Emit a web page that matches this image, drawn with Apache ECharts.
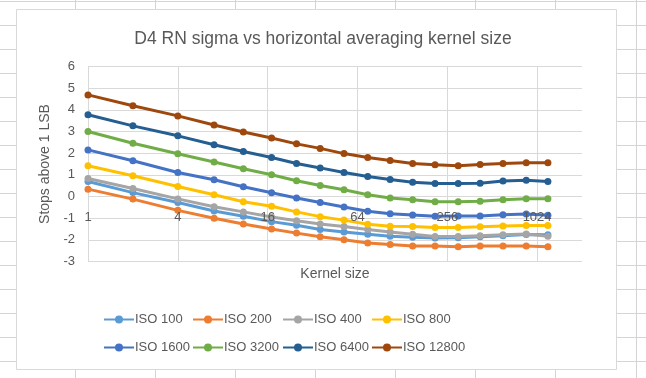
<!DOCTYPE html>
<html>
<head>
<meta charset="utf-8">
<script src="https://cdn.jsdelivr.net/npm/echarts@6/dist/echarts.min.js"></script>
<style>
html,body{margin:0;padding:0;background:#fff;}
#chart{width:646px;height:378px;}
</style>
</head>
<body>
<div id="chart"></div>
<script>
// ---- data ----
const kernelSizes = [1, 2, 4, 7, 11, 17, 25, 36, 52, 75, 106, 150, 212, 303, 425, 605, 866, 1210];
const xTickLabels = [1, 4, 16, 64, 256, 1024];
const seriesNames = ['ISO 100', 'ISO 200', 'ISO 400', 'ISO 800', 'ISO 1600', 'ISO 3200', 'ISO 6400', 'ISO 12800'];
const iso100   = [0.69, 0.18, -0.28, -0.67, -0.91, -1.16, -1.33, -1.52, -1.64, -1.74, -1.84, -1.88, -1.92, -1.90, -1.86, -1.81, -1.75, -1.77];
const iso200   = [0.34, -0.12, -0.64, -1.00, -1.27, -1.50, -1.69, -1.86, -2.00, -2.15, -2.22, -2.28, -2.29, -2.32, -2.28, -2.28, -2.28, -2.32];
const iso400   = [0.83, 0.37, -0.11, -0.47, -0.71, -0.95, -1.12, -1.27, -1.38, -1.52, -1.64, -1.74, -1.85, -1.85, -1.81, -1.77, -1.73, -1.84];
const iso800   = [1.42, 0.96, 0.46, 0.08, -0.24, -0.45, -0.71, -0.93, -1.09, -1.28, -1.37, -1.39, -1.43, -1.43, -1.40, -1.36, -1.34, -1.34];
const iso1600  = [2.15, 1.65, 1.11, 0.77, 0.45, 0.17, -0.07, -0.28, -0.48, -0.68, -0.80, -0.85, -0.91, -0.90, -0.90, -0.84, -0.81, -0.86];
const iso3200  = [3.00, 2.46, 1.97, 1.59, 1.28, 1.00, 0.73, 0.51, 0.31, 0.08, -0.07, -0.15, -0.24, -0.24, -0.22, -0.15, -0.10, -0.10];
const iso6400  = [3.77, 3.26, 2.80, 2.39, 2.08, 1.80, 1.52, 1.32, 1.11, 0.92, 0.78, 0.66, 0.60, 0.60, 0.61, 0.71, 0.75, 0.69];
const iso12800 = [4.69, 4.19, 3.72, 3.30, 2.98, 2.70, 2.43, 2.22, 1.98, 1.80, 1.66, 1.52, 1.46, 1.42, 1.48, 1.52, 1.56, 1.56];
const seriesValues = [iso100, iso200, iso400, iso800, iso1600, iso3200, iso6400, iso12800];
const colors = ['#5B9BD5', '#ED7D31', '#A5A5A5', '#FFC000', '#4472C4', '#70AD47', '#255E91', '#9E480E'];

const FONT = "'Liberation Sans', Arial, sans-serif";
const TXT = '#595959';

const chart = echarts.init(document.getElementById('chart'), null, {renderer: 'canvas'});

// spreadsheet background lines (decoration)
const sheet = [];
for (let y = 1; y <= 378; y += 24) {
  sheet.push({type: 'line', shape: {x1: 0, y1: y + 0.5, x2: 646, y2: y + 0.5}, style: {stroke: '#d4d4d4', lineWidth: 1}, z: -20});
}
for (let x = 75; x < 646; x += 80) {
  const xx = x > 600 ? 636 : x;
  sheet.push({type: 'line', shape: {x1: xx + 0.5, y1: 0, x2: xx + 0.5, y2: 378}, style: {stroke: '#d4d4d4', lineWidth: 1}, z: -20});
}
sheet.push({type: 'rect', shape: {x: 16.5, y: 9.5, width: 600, height: 360}, style: {fill: '#fff', stroke: '#d9d9d9', lineWidth: 1}, z: -10});
sheet.push({type: 'text', x: 335, y: 274, style: {text: 'Kernel size', font: '14px ' + FONT, fill: TXT, align: 'center', verticalAlign: 'middle'}, z: 5});

const legendX = [103, 192, 282, 371];
const legendY = [313, 341];
const legends = seriesNames.map((n, i) => ({
  data: [n],
  left: legendX[i % 4],
  top: legendY[Math.floor(i / 4)],
  itemWidth: 30,
  itemHeight: 10,
  itemGap: 0,
  textStyle: {color: TXT, fontSize: 13, fontFamily: FONT, padding: [0, 0, 0, -4]},
  padding: 0
}));

const xAxisBase = {
  type: 'log',
  logBase: 4,
  min: 1,
  max: 2048,
  position: 'bottom',
  offset: -65,
  axisLine: {show: false, onZero: false},
  axisTick: {show: false}
};

const option = {
  animation: false,
  backgroundColor: 'transparent',
  color: colors,
  title: {
    text: 'D4 RN sigma vs horizontal averaging kernel size',
    left: 'center',
    top: 25,
    textStyle: {color: TXT, fontSize: 17.5, fontWeight: 'normal', fontFamily: FONT}
  },
  graphic: {elements: sheet},
  legend: legends,
  grid: {left: 88, right: 64, top: 66.5, bottom: 116.5, containLabel: false},
  xAxis: [
    Object.assign({}, xAxisBase, {
      splitLine: {show: true, showMaxLine: false, lineStyle: {color: '#d9d9d9', width: 1}},
      axisLabel: {show: false}
    }),
    Object.assign({}, xAxisBase, {
      zlevel: 1,
      z: 20,
      splitLine: {show: false},
      axisLabel: {
        color: TXT, fontSize: 13, fontFamily: FONT, margin: 14,
        formatter: v => { const r = Math.round(v); return xTickLabels.includes(r) ? String(r) : ''; }
      }
    })
  ],
  yAxis: {
    type: 'value',
    min: -3,
    max: 6,
    interval: 1,
    name: 'Stops above 1 LSB',
    nameLocation: 'middle',
    nameGap: 30,
    nameTextStyle: {color: TXT, fontSize: 14, fontFamily: FONT},
    axisLine: {show: false},
    axisTick: {show: false},
    splitLine: {lineStyle: {color: '#d9d9d9', width: 1}},
    axisLabel: {color: TXT, fontSize: 13, fontFamily: FONT, margin: 13}
  },
  series: seriesNames.map((n, i) => ({
    name: n,
    type: 'line',
    xAxisIndex: 0,
    data: kernelSizes.map((k, j) => [k, seriesValues[i][j]]),
    symbol: 'circle',
    symbolSize: 7,
    lineStyle: {width: 3, color: colors[i]},
    itemStyle: {color: colors[i]},
    z: 2 + i
  }))
};
chart.setOption(option);
</script>
</body>
</html>
